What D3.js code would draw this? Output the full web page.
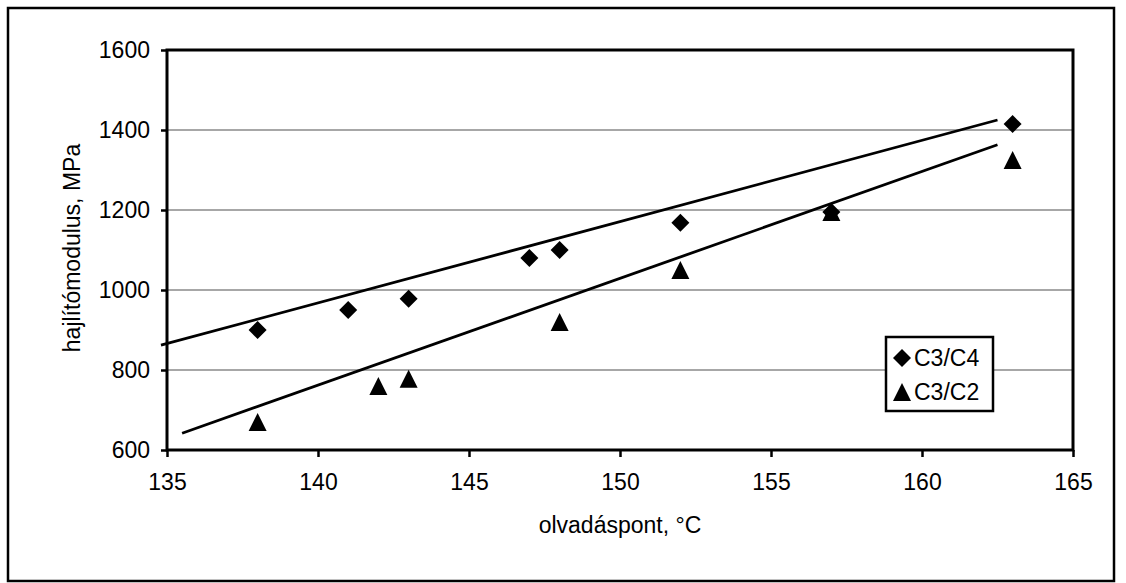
<!DOCTYPE html>
<html><head><meta charset="utf-8">
<script src="https://cdn.jsdelivr.net/npm/d3@7"></script>
<style>
body{margin:0;background:#fff}
svg{display:block}
text{font-family:"Liberation Sans",Arial,sans-serif;fill:#000}
</style>
</head><body>
<svg id="chart" width="1126" height="583"></svg>
<script>
// ---- data ----
const xTicks = [135, 140, 145, 150, 155, 160, 165];
const yTicks = [600, 800, 1000, 1200, 1400, 1600];
const gridValues = [800, 1000, 1200, 1400];
const seriesNames = ["C3/C4", "C3/C2"];
const c34X = [138, 141, 143, 147, 148, 152, 157, 163];
const c34Y = [900, 950, 978, 1080, 1100, 1168, 1195, 1415];
const c32X = [138, 142, 143, 148, 152, 157, 163];
const c32Y = [670, 760, 778, 920, 1050, 1195, 1325];
const trend34X = [134.8, 162.5];
const trend34Y = [862, 1425];
const trend32X = [135.5, 162.5];
const trend32Y = [642, 1363];
const xTitle = "olvadáspont, °C";
const yTitle = "hajlítómodulus, MPa";

// ---- layout ----
const W = 1126, H = 583;
const plot = {left: 167, right: 1073, top: 50, bottom: 450};
const FONT = 23;

const svg = d3.select("#chart");
const x = d3.scaleLinear().domain([135, 165]).range([plot.left, plot.right]);
const y = d3.scaleLinear().domain([600, 1600]).range([plot.bottom, plot.top]);

// outer frame
svg.append("rect").attr("x", 8).attr("y", 8).attr("width", 1106).attr("height", 573)
  .attr("fill", "#fff").attr("stroke", "#000").attr("stroke-width", 2.5);

// gridlines
svg.append("g").selectAll("line").data(gridValues).join("line")
  .attr("x1", plot.left).attr("x2", plot.right)
  .attr("y1", d => y(d)).attr("y2", d => y(d))
  .attr("stroke", "#8a8a8a").attr("stroke-width", 1.3);

// plot frame
svg.append("rect").attr("x", plot.left).attr("y", plot.top)
  .attr("width", plot.right - plot.left).attr("height", plot.bottom - plot.top)
  .attr("fill", "none").attr("stroke", "#000").attr("stroke-width", 3);

// axes
const yAxis = d3.axisLeft(y).tickValues(yTicks).tickSize(6).tickPadding(11).tickFormat(d3.format("d"));
const gy = svg.append("g").attr("transform", `translate(${plot.left},0)`).call(yAxis);
const xAxis = d3.axisBottom(x).tickValues(xTicks).tickSize(7).tickPadding(17).tickFormat(d3.format("d"));
const gx = svg.append("g").attr("transform", `translate(0,${plot.bottom})`).call(xAxis);
[gx, gy].forEach(g => {
  g.select(".domain").remove();
  g.selectAll(".tick line").attr("stroke", "#000").attr("stroke-width", 2.5);
  g.selectAll(".tick text").attr("font-size", FONT).attr("font-family", '"Liberation Sans",Arial,sans-serif').attr("fill", "#000");
});

// axis titles
svg.append("text").attr("x", 620).attr("y", 533).attr("text-anchor", "middle")
  .attr("font-size", FONT).text(xTitle);
svg.append("text").attr("transform", "translate(80,248) rotate(-90)").attr("text-anchor", "middle")
  .attr("font-size", FONT).text(yTitle);

// trend lines
const line = d3.line().x(d => x(d[0])).y(d => y(d[1]));
svg.append("path").datum(d3.zip(trend34X, trend34Y)).attr("d", line)
  .attr("fill", "none").attr("stroke", "#000").attr("stroke-width", 2.8);
svg.append("path").datum(d3.zip(trend32X, trend32Y)).attr("d", line)
  .attr("fill", "none").attr("stroke", "#000").attr("stroke-width", 2.8);

// marker shapes (Excel-like)
const diamondType = {draw(ctx, size) { const r = Math.sqrt(size) / 2;
  ctx.moveTo(0, -r); ctx.lineTo(r, 0); ctx.lineTo(0, r); ctx.lineTo(-r, 0); ctx.closePath(); }};
const triangleType = {draw(ctx, size) { const r = Math.sqrt(size) / 2;
  ctx.moveTo(0, -r); ctx.lineTo(r, r); ctx.lineTo(-r, r); ctx.closePath(); }};
const diamondPath = d3.symbol(diamondType, 18 * 18)();
const trianglePath = d3.symbol(triangleType, 18 * 18)();

svg.append("g").selectAll("path").data(d3.zip(c34X, c34Y)).join("path")
  .attr("d", diamondPath).attr("transform", d => `translate(${x(d[0])},${y(d[1])})`).attr("fill", "#000");
svg.append("g").selectAll("path").data(d3.zip(c32X, c32Y)).join("path")
  .attr("d", trianglePath).attr("transform", d => `translate(${x(d[0])},${y(d[1])})`).attr("fill", "#000");

// legend
const lg = svg.append("g").attr("transform", "translate(886,337)");
lg.append("rect").attr("width", 107).attr("height", 74).attr("fill", "#fff")
  .attr("stroke", "#000").attr("stroke-width", 2.5);
const legendShapes = [diamondPath, trianglePath];
seriesNames.forEach((name, i) => {
  const cy = 21 + i * 34;
  lg.append("path").attr("d", legendShapes[i]).attr("transform", `translate(16,${cy})`).attr("fill", "#000");
  lg.append("text").attr("x", 28).attr("y", cy + 8).attr("font-size", FONT).text(name);
});
</script>
</body></html>
